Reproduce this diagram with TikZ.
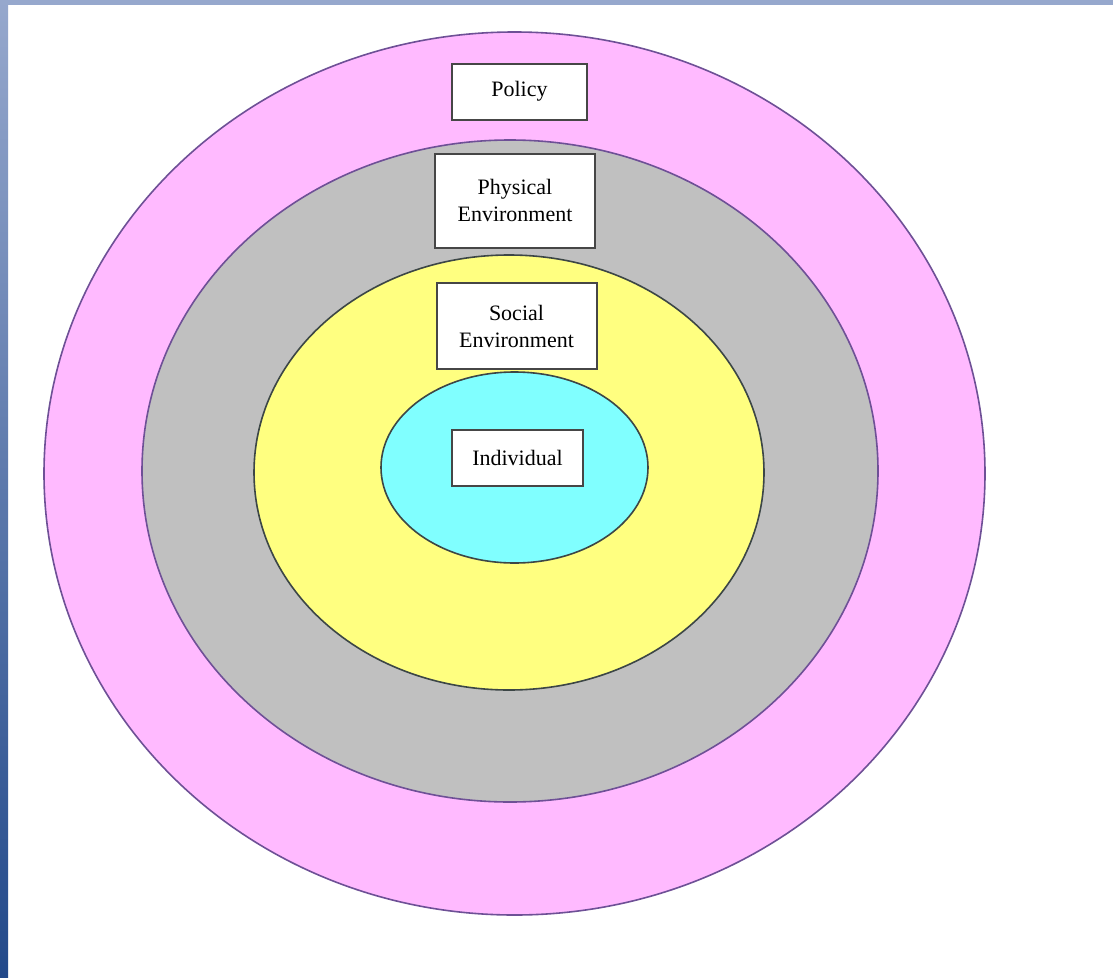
\documentclass[tikz,border=0pt]{standalone}
\usepackage{fontspec}
\setmainfont{Liberation Serif}
\usepackage{xcolor}
\usetikzlibrary{shapes.geometric,positioning}
\definecolor{clrBandTop}{RGB}{150,168,205}
\definecolor{clrBandBot}{RGB}{34,73,138}
\definecolor{clrPolicyfill}{RGB}{255,186,255}
\definecolor{clrPhysfill}{RGB}{192,192,192}
\definecolor{clrSocialfill}{RGB}{255,255,128}
\definecolor{clrIndivfill}{RGB}{128,255,255}
\definecolor{clrRingedge}{RGB}{110,80,150}
\definecolor{clrInneredge}{RGB}{60,70,70}
\definecolor{clrBoxedge}{RGB}{70,70,70}
\tikzset{
  ringnode/.style={ellipse, draw=clrRingedge, line width=1.6pt, inner sep=0pt},
  innernode/.style={ellipse, draw=clrInneredge, line width=1.6pt, inner sep=0pt},
  labelbox/.style={draw=clrBoxedge, fill=white, line width=2pt, align=center, inner sep=2pt,
    font=\fontsize{22}{27}\selectfont}
}
\begin{document}
\begin{tikzpicture}[x=1pt, y=-1pt]
\useasboundingbox (0,0) rectangle (1113,977);
\fill[white] (0,0) rectangle (1113,977);
\fill[clrBandTop] (0,0) rectangle (1113,5);
\shade[top color=clrBandTop, bottom color=clrBandBot] (0,0) rectangle (8,977);

\node[ringnode, fill=clrPolicyfill, minimum width=941pt, minimum height=883pt] (policyring) at (514.5,473.5) {};
\node[ringnode, fill=clrPhysfill, minimum width=736pt, minimum height=662pt] (physring) at (510,471) {};
\node[innernode, fill=clrSocialfill, minimum width=510pt, minimum height=435pt] (socialring) at (509,472.5) {};
\node[innernode, fill=clrIndivfill, minimum width=267pt, minimum height=191pt] (indivring) at (514.5,467.5) {};

\node[labelbox, minimum width=135pt, minimum height=56pt] (policy) at (519.5,91.5) {Policy};
\node[labelbox, minimum width=160pt, minimum height=94pt] (phys) at (515,200.5) {Physical\\Environment};
\node[labelbox, minimum width=160pt, minimum height=86pt] (social) at (516.5,326) {Social\\Environment};
\node[labelbox, minimum width=131pt, minimum height=56pt] (indiv) at (517.5,458) {Individual};

\end{tikzpicture}
\end{document}
